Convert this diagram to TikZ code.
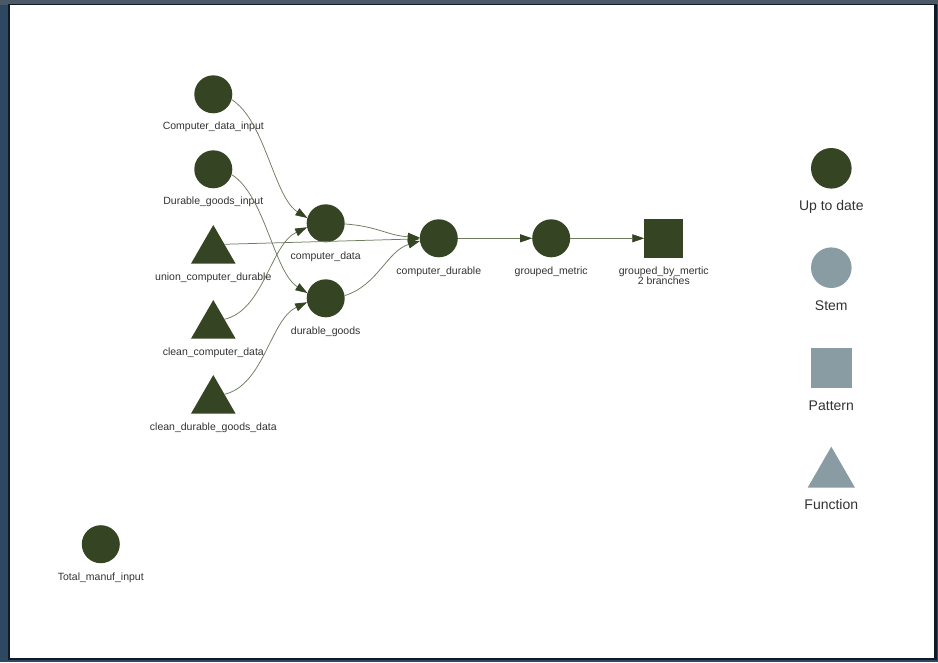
\documentclass[tikz,border=0pt]{standalone}
\usepackage{fontspec}
\setmainfont{Liberation Sans}
\usetikzlibrary{shapes.geometric,arrows.meta}

\definecolor{uptodate}{HTML}{354422}
\definecolor{legendgrey}{HTML}{8A9CA3}
\definecolor{edgecol}{HTML}{6E7B5E}
\definecolor{labeltext}{HTML}{333333}
\definecolor{frameblue}{HTML}{2E4862}
\definecolor{framebar}{HTML}{4B5967}
\definecolor{frameline}{HTML}{0F1A25}

\begin{document}
\begin{tikzpicture}[x=1pt,y=1pt,
  target/.style={circle,fill=#1,minimum size=38pt,inner sep=0pt,outer sep=0pt},
  target/.default=uptodate,
  func/.style={regular polygon,regular polygon sides=3,fill=#1,
    minimum size=51.4pt,inner sep=0pt,outer sep=0pt},
  func/.default=uptodate,
  patt/.style={rectangle,fill=#1,minimum size=39pt,inner sep=0pt,outer sep=0pt},
  patt/.default=uptodate,
  lbl/.style={font=\fontsize{10.5}{12}\selectfont,text=labeltext,inner sep=0pt,anchor=base},
  legtxt/.style={font=\fontsize{14}{16}\selectfont,text=labeltext,inner sep=0pt,anchor=base},
  link/.style={draw=edgecol,line width=0.75pt,
    -{Triangle[length=12pt,width=8pt,color=uptodate,fill=uptodate]}}]

% window frame and white canvas
\fill[frameblue] (0,0) rectangle (938,-662);
\fill[framebar] (0,0) rectangle (938,-4.5);
\fill[frameline] (8,-4.3) rectangle (936.6,-659.5);
\fill[white] (10,-5.4) rectangle (934.4,-657.8);
\useasboundingbox (0,0) rectangle (938,-662);

% pipeline nodes
\node[target] (cdi)  at (213.3,-94.3)  {};
\node[target] (dgi)  at (213.3,-169.3) {};
\node[func]   (ucd)  at (213.3,-250.7) {};
\node[func]   (ccd)  at (213.3,-325.7) {};
\node[func]   (cdg)  at (213.3,-400.7) {};
\node[target] (cd)   at (325.7,-223.3) {};
\node[target] (dg)   at (325.7,-298.3) {};
\node[target] (cdur) at (438.8,-238.3) {};
\node[target] (gm)   at (551.2,-238.3) {};
\node[patt]   (gbm)  at (663.8,-238.3) {};
\node[target] (tmi)  at (100.8,-544.2) {};

% node labels
\node[lbl] (cdi-t)  at (213.3,-129.5) {Computer\_data\_input};
\node[lbl] (dgi-t)  at (213.3,-204.5) {Durable\_goods\_input};
\node[lbl] (ucd-t)  at (213.3,-280.5) {union\_computer\_durable};
\node[lbl] (ccd-t)  at (213.3,-355.5) {clean\_computer\_data};
\node[lbl] (cdg-t)  at (213.3,-430.5) {clean\_durable\_goods\_data};
\node[lbl] (cd-t)   at (325.7,-259.5) {computer\_data};
\node[lbl] (dg-t)   at (325.7,-334.5) {durable\_goods};
\node[lbl] (cdur-t) at (438.8,-274.5) {computer\_durable};
\node[lbl] (gm-t)   at (551.2,-274.5) {grouped\_metric};
\node[lbl] (gbm-t)  at (663.8,-274.5) {grouped\_by\_mertic};
\node[lbl] (gbm-b)  at (663.8,-284.5) {2 branches};
\node[lbl] (tmi-t)  at (100.8,-580.5) {Total\_manuf\_input};

% dependencies
\draw[link] (cdi.-16) to[out=-32,in=148,looseness=0.72] (cd.164);
\draw[link] (dgi.-16) to[out=-32,in=148,looseness=0.72] (dg.164);
\draw[link] (ucd.side 3) -- (cdur);
\draw[link] (ccd.side 3) to[out=13,in=205,looseness=0.84] (cd.192);
\draw[link] (cdg.side 3) to[out=13,in=205,looseness=0.84] (dg.192);
\draw[link] (cd.-2) to[out=-4,in=176,looseness=1.1] (cdur.178);
\draw[link] (dg.8) to[out=17,in=197,looseness=0.95] (cdur.188);
\draw[link] (cdur) -- (gm);
\draw[link] (gm) -- (gbm);

% legend
\node[target,minimum size=40.6pt] (leg-up) at (831.3,-168.3) {};
\node[target=legendgrey,minimum size=40.6pt] (leg-stem) at (831.3,-267.7) {};
\node[patt=legendgrey,minimum size=40.6pt] (leg-patt) at (831.3,-367.8) {};
\node[func=legendgrey,minimum size=54.6pt] (leg-func) at (831.3,-474.0) {};
\node[legtxt] (leg-up-t)   at (831.3,-210.5) {Up to date};
\node[legtxt] (leg-stem-t) at (831.3,-310) {Stem};
\node[legtxt] (leg-patt-t) at (831.3,-410) {Pattern};
\node[legtxt] (leg-func-t) at (831.3,-509.5) {Function};
\end{tikzpicture}
\end{document}
